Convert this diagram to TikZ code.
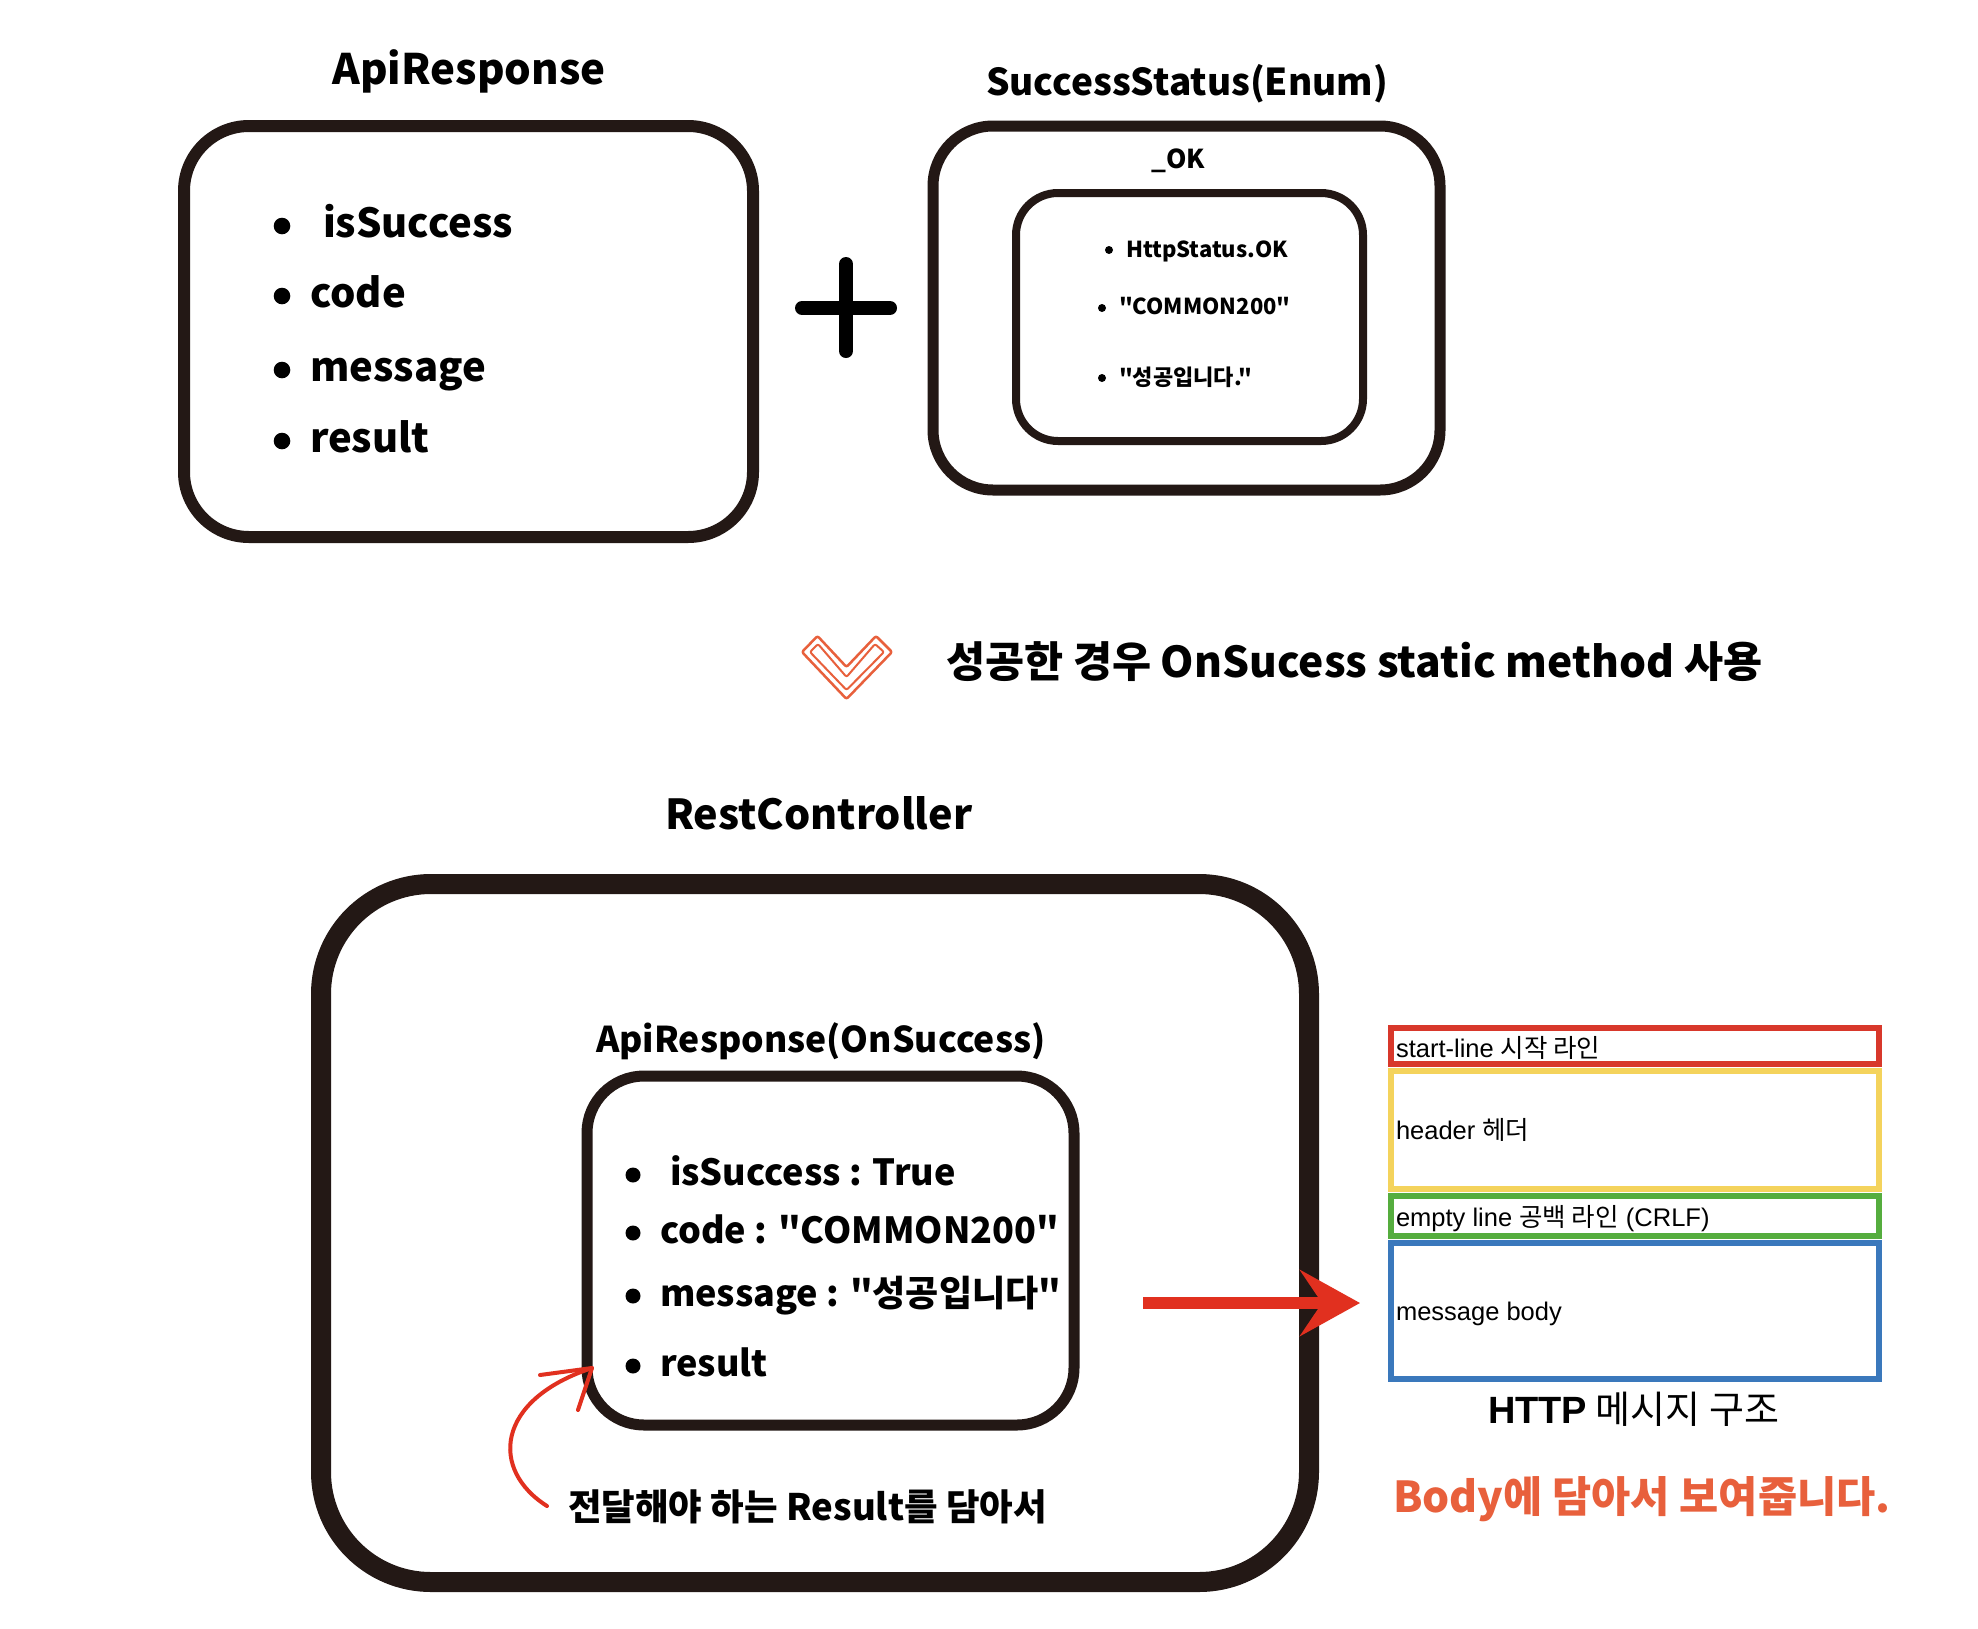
\documentclass[tikz,border=0pt]{standalone}
\usepackage{fontspec}
\setmainfont{Noto Sans CJK KR}[Ligatures=TeXOff]
\newfontfamily\libsans{Liberation Sans}[Ligatures=TeXOff]
\newfontfamily\krsans{Noto Sans CJK KR}[Ligatures=TeXOff]
\usetikzlibrary{arrows.meta}
\definecolor{ink}{HTML}{231815}
\definecolor{redarrow}{HTML}{E1301F}
\definecolor{orangetxt}{HTML}{E8603C}
\definecolor{hred}{HTML}{D8382B}
\definecolor{hyellow}{HTML}{F4D35C}
\definecolor{hgreen}{HTML}{55AD3E}
\definecolor{hblue}{HTML}{3A78BC}
\newcommand\fsz[1]{\fontsize{#1}{#1}\selectfont}
\begin{document}
\begin{tikzpicture}[x=1pt,y=-1pt,
  rbox/.style={draw=ink, inner sep=0, outer sep=0},
  lbl/.style={inner sep=0, outer sep=0, anchor=base west, font={\bfseries\fsz{#1}}},
  clbl/.style={inner sep=0, outer sep=0, anchor=base, font={\bfseries\fsz{#1}}},
  hlbl/.style={inner sep=0, outer sep=0, anchor=base west, text=black, font={\libsans\fsz{25.5}}},
  hsec/.style={draw=#1, line width=6pt, inner sep=0, outer sep=0, anchor=north west, minimum width=488pt},
  bullet/.style={fill=black},
  redline/.style={draw=redarrow, line width=4pt, line cap=round, line join=round}]
\fill[white] (0,0) rectangle (1978,1628);
\useasboundingbox (0,0) rectangle (1978,1628);

% ---------- ApiResponse ----------
\node[clbl=42] (tapi) at (469,84) {ApiResponse};
\node[rbox, line width=12pt, rounded corners=65pt, minimum width=569pt, minimum height=411pt] (box1) at (468.5,331.5) {};
\fill[bullet] (282,226) circle[radius=8.3];
\fill[bullet] (282,296) circle[radius=8.3];
\fill[bullet] (282,370) circle[radius=8.3];
\fill[bullet] (282,441) circle[radius=8.3];
\node[lbl=40] (a1) at (323,237) {isSuccess};
\node[lbl=40] (a2) at (310,307) {code};
\node[lbl=40] (a3) at (310,381) {message};
\node[lbl=40] (a4) at (310,452) {result};

% ---------- plus ----------
\draw[black, line width=14pt, line cap=round] (802,308) -- (890,308);
\draw[black, line width=14pt, line cap=round] (846,264) -- (846,351);

% ---------- SuccessStatus ----------
\node[clbl=37] (tss) at (1187,95) {SuccessStatus(Enum)};
\node[rbox, line width=11pt, rounded corners=60pt, minimum width=507pt, minimum height=364pt] (box2) at (1186.5,308) {};
\node[clbl=26] (tok) at (1178,168) {\_OK};
\node[rbox, line width=8pt, rounded corners=42pt, minimum width=347pt, minimum height=248pt] (okbox) at (1189.5,317) {};
\fill[bullet] (1109,250) circle[radius=4];
\fill[bullet] (1102,308) circle[radius=4];
\fill[bullet] (1102,378) circle[radius=4];
\node[lbl=22] (s1) at (1126,257) {HttpStatus.OK};
\node[lbl=22] (s2) at (1119,314) {"COMMON200"};
\node[lbl=22] (s3) at (1119,385) {"성공입니다."};

% ---------- heart + heading ----------
\draw[orangetxt, line width=2.5pt, line join=round, rounded corners=2pt]
  (802,652) -- (817.5,636) -- (846.5,667) -- (876,636) -- (892,652) -- (846.5,699) -- cycle;
\draw[orangetxt, line width=2pt, line join=round, rounded corners=2pt]
  (810,652) -- (818,644) -- (846.5,677) -- (875,644) -- (884,652) -- (846.5,690) -- cycle;
\node[lbl=42.5] (head) at (946,677) {성공한 경우 OnSucess static method 사용};

% ---------- RestController ----------
\node[lbl=41.3] (trc) at (665,829) {RestController};
\node[rbox, line width=20pt, rounded corners=110pt, minimum width=988pt, minimum height=698pt] (rcbox) at (815,1233) {};
\node[lbl=35.5] (tres) at (596,1052) {ApiResponse(OnSuccess)};
\node[rbox, line width=11pt, rounded corners=57pt, minimum width=487pt, minimum height=349pt] (resbox) at (830.5,1250.5) {};
\fill[bullet] (633,1175) circle[radius=7.5];
\fill[bullet] (633,1233) circle[radius=7.5];
\fill[bullet] (633,1296) circle[radius=7.5];
\fill[bullet] (633,1366) circle[radius=7.5];
\node[lbl=36] (r1) at (670,1185) {isSuccess : True};
\node[lbl=36] (r2) at (660,1243) {code : "COMMON200"};
\node[lbl=36] (r3) at (660,1306) {message : "성공입니다"};
\node[lbl=36] (r4) at (660,1376) {result};
\node[lbl=36.5] (note) at (568,1520) {전달해야 하는 Result를 담아서};

% red curved arrow
\coordinate (cstart) at (547,1506);
\coordinate (ctip) at (592,1368);
\coordinate (cb1) at (540,1375);
\coordinate (cb2) at (578,1410);
\draw[redline] (cstart) .. controls (490,1470) and (495,1400) .. (ctip);
\draw[redline] (cb1) -- (ctip) -- (cb2);

% red straight arrow
\coordinate (astart) at (1143,1303);
\coordinate (atip) at (1360,1303);
\draw[redarrow, line width=12pt, -{Stealth[length=60pt, width=66pt, inset=22pt]}] (astart) -- (atip);

% ---------- HTTP message structure ----------
\node[hsec=hred, minimum height=36pt] (hs1) at (1391,1028) {};
\node[hsec=hyellow, minimum height=118pt] (hs2) at (1391,1071) {};
\node[hsec=hgreen, minimum height=40pt] (hs3) at (1391,1196) {};
\node[hsec=hblue, minimum height=136pt] (hs4) at (1391,1243) {};
\node[hlbl] (h1) at (1396,1057) {start-line {\krsans 시작 라인}};
\node[hlbl] (h2) at (1396,1139) {header {\krsans 헤더}};
\node[hlbl] (h3) at (1396,1226) {empty line {\krsans 공백 라인} (CRLF)};
\node[hlbl] (h4) at (1396,1320) {message body};
\node[inner sep=0, outer sep=0, anchor=base west, font=\fsz{38}] (hcap) at (1488,1423) {{\libsans\bfseries HTTP} {\krsans 메시지 구조}};
\node[lbl=42.6, text=orangetxt] (body) at (1393,1512) {Body에 담아서 보여줍니다.};
\end{tikzpicture}
\end{document}
